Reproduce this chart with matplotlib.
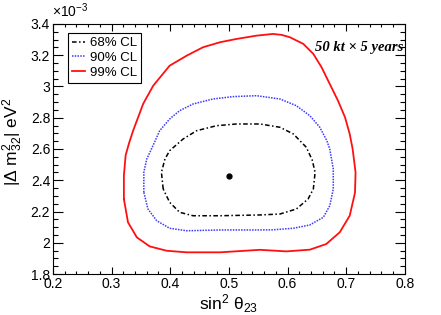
import matplotlib

matplotlib.use("Agg")

import matplotlib.pyplot as plt
from matplotlib.ticker import MultipleLocator, FuncFormatter

plt.rcParams["font.family"] = ["Liberation Sans", "DejaVu Sans"]
plt.rcParams["mathtext.fontset"] = "custom"
plt.rcParams["mathtext.rm"] = "Liberation Sans"
plt.rcParams["mathtext.it"] = "Liberation Sans"
plt.rcParams["mathtext.bf"] = "Liberation Sans:bold"

# contour points: sin^2(theta23), |dm2_32| in units of 1e-3 eV^2
cl99_x = [0.321, 0.321, 0.324, 0.330, 0.337, 0.354, 0.371, 0.399, 0.428, 0.456,
          0.485, 0.513, 0.547, 0.575, 0.590, 0.604, 0.627, 0.644, 0.658, 0.672,
          0.686, 0.698, 0.706, 0.711, 0.716, 0.715, 0.706, 0.689, 0.666, 0.638,
          0.598, 0.553, 0.485, 0.428, 0.394, 0.365, 0.343, 0.328, 0.321]
cl99_y = [2.280, 2.430, 2.560, 2.640, 2.720, 2.890, 3.005, 3.133, 3.197, 3.251,
          3.283, 3.304, 3.325, 3.336, 3.330, 3.315, 3.272, 3.208, 3.123, 3.016,
          2.909, 2.803, 2.696, 2.600, 2.450, 2.320, 2.173, 2.067, 1.992, 1.956,
          1.945, 1.955, 1.939, 1.939, 1.949, 1.977, 2.035, 2.131, 2.280]

cl90_x = [0.355, 0.355, 0.360, 0.368, 0.382, 0.399, 0.416, 0.439, 0.473, 0.507,
          0.547, 0.587, 0.615, 0.638, 0.655, 0.667, 0.672, 0.678, 0.678, 0.672,
          0.661, 0.638, 0.610, 0.575, 0.547, 0.485, 0.428, 0.399, 0.377, 0.362,
          0.355]
cl90_y = [2.323, 2.451, 2.536, 2.600, 2.717, 2.792, 2.845, 2.888, 2.920, 2.935,
          2.941, 2.920, 2.877, 2.813, 2.739, 2.653, 2.600, 2.472, 2.344, 2.237,
          2.163, 2.114, 2.093, 2.083, 2.082, 2.082, 2.077, 2.093, 2.141, 2.216,
          2.323]

cl68_x = [0.388, 0.385, 0.391, 0.399, 0.422, 0.445, 0.479, 0.513, 0.553, 0.587,
          0.610, 0.632, 0.642, 0.647, 0.644, 0.635, 0.615, 0.587, 0.553, 0.485,
          0.439, 0.416, 0.399, 0.388]
cl68_y = [2.344, 2.451, 2.536, 2.589, 2.664, 2.717, 2.749, 2.760, 2.760, 2.739,
          2.696, 2.611, 2.530, 2.451, 2.344, 2.280, 2.216, 2.184, 2.178, 2.173,
          2.173, 2.195, 2.259, 2.344]

best_x = [0.50]
best_y = [2.43]

fig = plt.figure(figsize=(4.41, 3.15), dpi=100)
ax = fig.add_axes([0.120, 0.130, 0.798, 0.794])

ax.plot(cl68_x, cl68_y, color="black", lw=1.1, ls=(0, (3, 1.6, 1, 1.6)), label="68% CL")
ax.plot(cl90_x, cl90_y, color="#3a3aff", lw=1.1, ls=(0, (1, 0.8)), label="90% CL")
ax.plot(cl99_x, cl99_y, color="#ff1010", lw=1.3, label="99% CL")
ax.plot(best_x, best_y, "o", color="black", ms=3.5)

ax.set_xlim(0.2, 0.8)
ax.set_ylim(1.8, 3.4)
ax.xaxis.set_major_locator(MultipleLocator(0.1))
ax.xaxis.set_minor_locator(MultipleLocator(0.02))
ax.yaxis.set_major_locator(MultipleLocator(0.2))
ax.yaxis.set_minor_locator(MultipleLocator(0.05))
ax.xaxis.set_major_formatter(FuncFormatter(lambda v, p: f"{v:g}"))
ax.yaxis.set_major_formatter(FuncFormatter(lambda v, p: f"{round(v, 3):g}"))

ax.tick_params(which="both", direction="in", top=True, right=True, labelsize=10,
               width=0.8, pad=2)
ax.tick_params(axis="x", which="major", length=5)
ax.tick_params(axis="x", which="minor", length=2.5)
ax.tick_params(axis="y", which="major", length=7)
ax.tick_params(axis="y", which="minor", length=3.6)
for s in ax.spines.values():
    s.set_linewidth(0.8)

ax.set_xlabel("sin$^{2}$ θ$_{23}$", fontsize=12.5, labelpad=1)
ax.set_ylabel("|Δ m$^{2}_{32}$| eV$^{2}$", fontsize=12.5)
ax.yaxis.set_label_coords(-0.078, 0.53)

fig.text(0.118, 0.935, r"$\times$10$^{-3}$", fontsize=10, ha="left", va="bottom")
ax.text(0.995, 0.905, "50 kt × 5 years", transform=ax.transAxes, ha="right", va="center",
        fontsize=10.5, family="Liberation Serif", style="italic", weight="bold")

leg = ax.legend(loc="upper left", bbox_to_anchor=(0.043, 0.964), borderaxespad=0,
                fontsize=9.5, handlelength=1.0, handletextpad=0.35, labelspacing=0.2,
                borderpad=0.3, fancybox=False, framealpha=1)
leg.get_frame().set_edgecolor("black")
leg.get_frame().set_linewidth(0.8)

fig.savefig("out.png", dpi=100, facecolor="white")
